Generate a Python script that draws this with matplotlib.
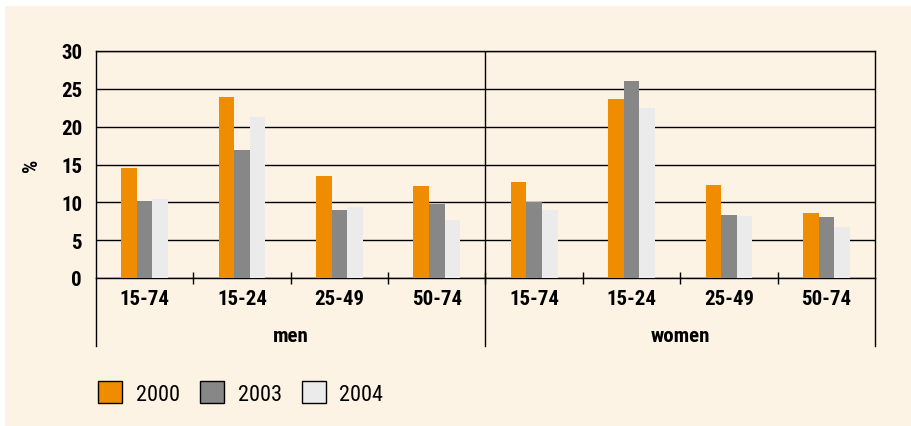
import numpy as np
import matplotlib
matplotlib.use("Agg")
import matplotlib.pyplot as plt
from matplotlib import font_manager
from matplotlib.patches import Patch, Rectangle

# --- données ---
groups = ["men", "women"]
ages = ["15-74", "15-24", "25-49", "50-74"]
years = ["2000", "2003", "2004"]
men_2000 = [14.5, 23.9, 13.5, 12.2]
men_2003 = [10.2, 16.9, 9.0, 9.8]
men_2004 = [10.4, 21.3, 9.4, 7.7]
women_2000 = [12.7, 23.7, 12.3, 8.6]
women_2003 = [10.0, 26.0, 8.3, 8.1]
women_2004 = [9.0, 22.5, 8.2, 6.7]
yticks = [0, 5, 10, 15, 20, 25, 30]

series = [men_2000 + women_2000, men_2003 + women_2003, men_2004 + women_2004]
colors = ["#F08C00", "#878787", "#EBEBEB"]
beige = "#FDF3E4"

# --- police condensée si dispo ---
names = {f.name for f in font_manager.fontManager.ttflist}
cond = "DejaVu Sans"
for n in ["Liberation Sans Narrow", "DejaVu Sans Condensed", "Roboto Condensed"]:
    if n in names:
        cond = n
        break

fig = plt.figure(figsize=(9.12, 4.27), dpi=100)
fig.patch.set_facecolor("white")
fig.patches.append(Rectangle((5 / 912, 0), 1, 1 - 7 / 427, transform=fig.transFigure,
                             facecolor=beige, edgecolor="none", zorder=-10))

ax = fig.add_axes([96 / 912, 1 - 279 / 427, (875 - 96) / 912, (279 - 52) / 427])
ax.set_facecolor("none")

labels = ages * len(groups)
x = np.arange(len(labels))
w = 0.16
for i, (vals, c) in enumerate(zip(series, colors)):
    ax.bar(x + (i - 1) * w, vals, width=w, color=c, edgecolor="none", zorder=3)

ax.set_xlim(-0.5, len(labels) - 0.5)
ax.set_ylim(0, 30)
ax.set_yticks(yticks)
ax.yaxis.grid(True, color="black", lw=1.0, zorder=1)
ax.set_axisbelow(True)
for s in ["left", "right", "top", "bottom"]:
    ax.spines[s].set_color("black")
    ax.spines[s].set_linewidth(1.0)

tfont = dict(family=cond, weight="bold", size=15)
ax.set_yticklabels([str(v) for v in yticks], **tfont)
ax.tick_params(axis="y", length=0, pad=10)
ax.set_xticks(x)
ax.set_xticklabels(labels, **tfont)
ax.tick_params(axis="x", which="major", length=0, pad=8)
ax.set_xticks(np.arange(0.5, len(labels) - 1, 1.0), minor=True)
ax.tick_params(axis="x", which="minor", direction="inout", length=8, width=1.0)

ax.set_ylabel("%", family=cond, weight="bold", size=15, labelpad=14)

# lignes de séparation sous l'axe + étiquettes de groupe
trans = ax.get_xaxis_transform()
drop = (347 - 279) / (279 - 52)
for b in [-0.5, 3.5, 7.5]:
    ax.plot([b, b], [0, -drop], color="black", lw=1.0, transform=trans, clip_on=False)
ax.plot([3.5, 3.5], [0, 1], color="black", lw=1.0, transform=trans, zorder=4)
for gi, g in enumerate(groups):
    ax.text(gi * 4 + 1.5, -(337 - 279) / (279 - 52), g, transform=trans,
            ha="center", va="center", **tfont)

handles = [Patch(facecolor=c, edgecolor="black", lw=1.0, label=y) for c, y in zip(colors, years)]
fig.legend(handles=handles, loc="center left", bbox_to_anchor=(78 / 912, 1 - 394 / 427),
           ncol=3, frameon=False, handlelength=1.1, handleheight=1.1, handletextpad=0.6,
           columnspacing=0.9, prop=dict(family=cond, weight="normal", size=16))

fig.savefig("out.png", dpi=100, facecolor="white")
